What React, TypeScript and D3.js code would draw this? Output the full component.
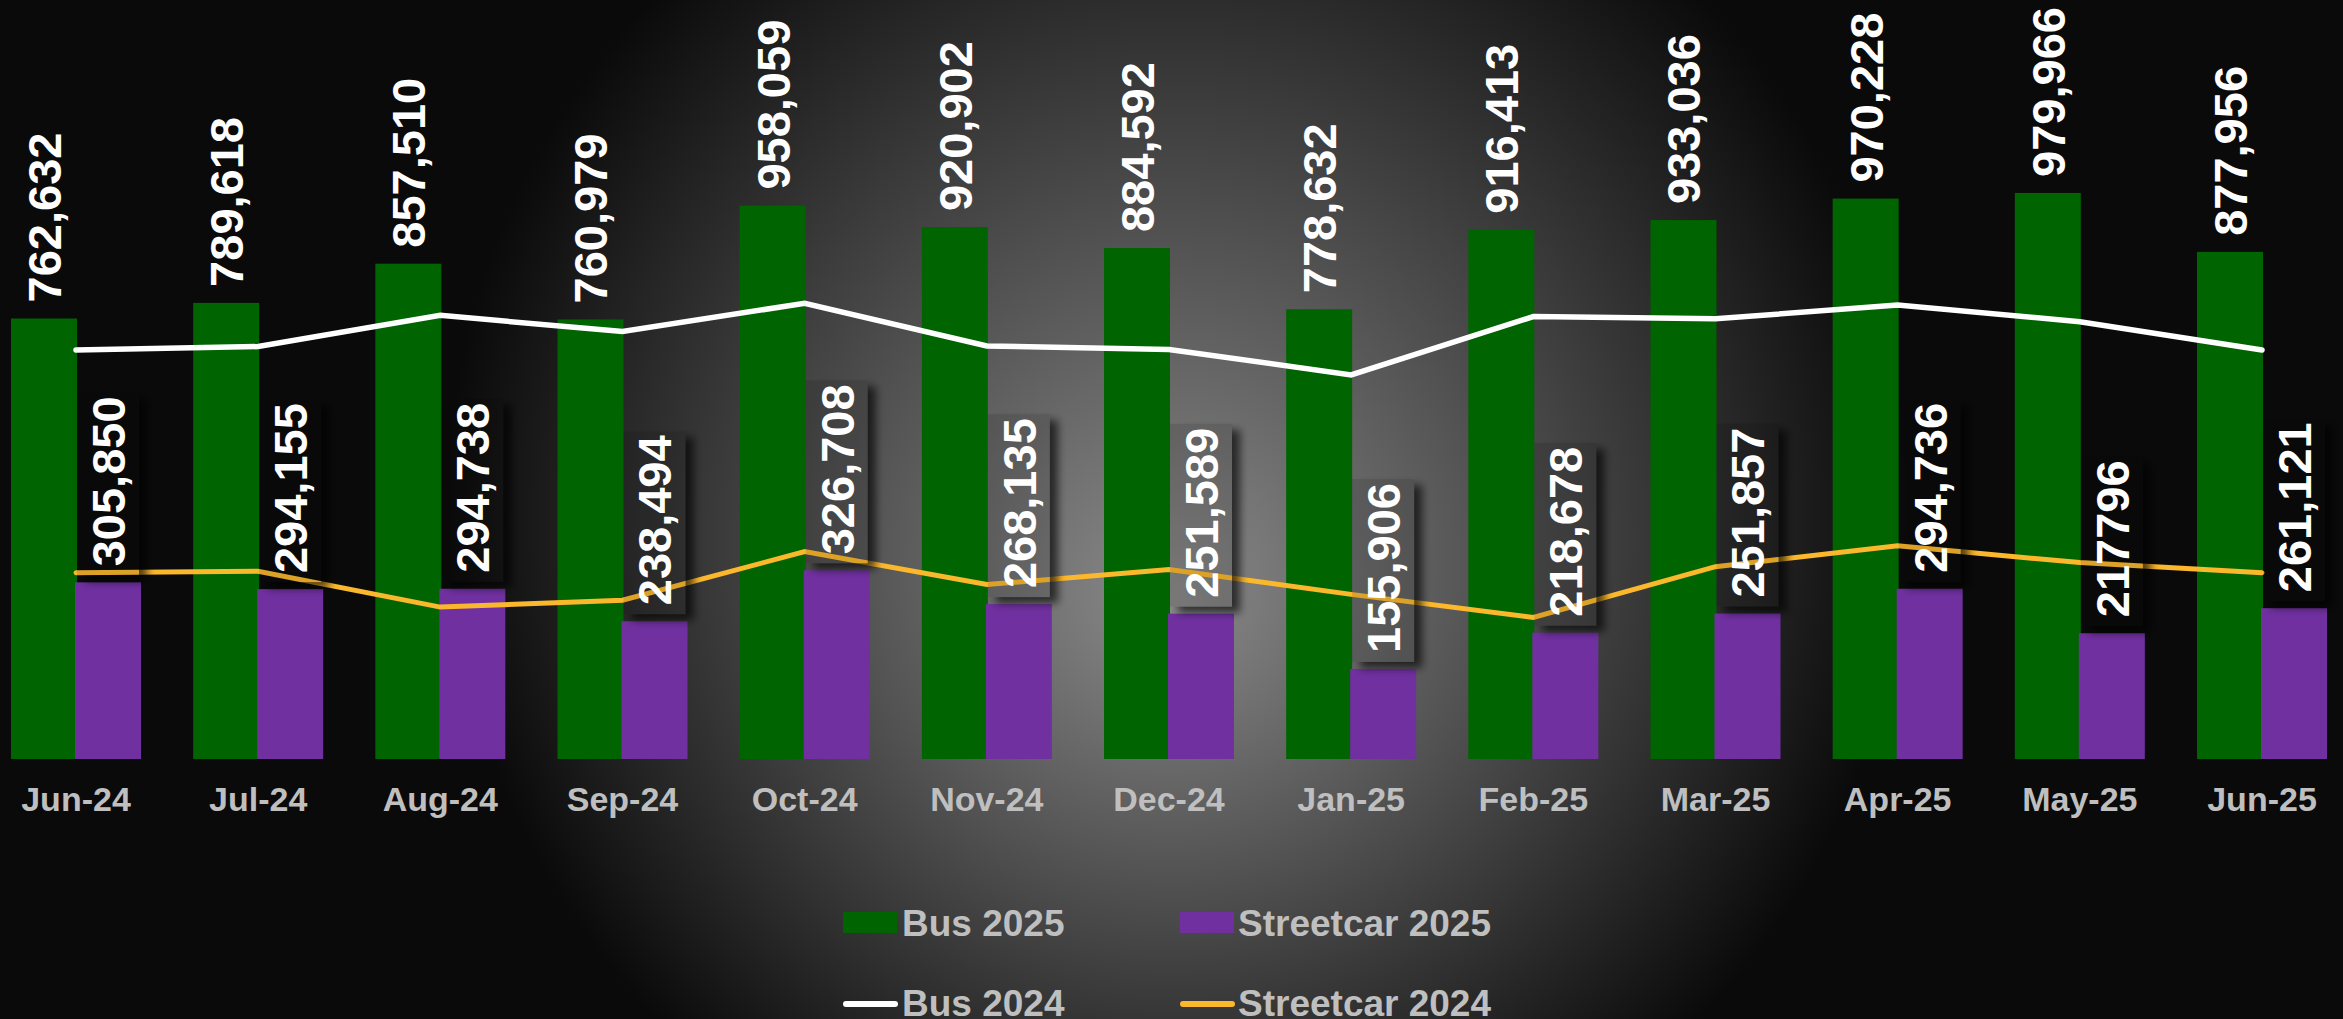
import React, { useEffect, useRef } from "react";
import * as d3 from "d3";

const months = ["Jun-24", "Jul-24", "Aug-24", "Sep-24", "Oct-24", "Nov-24", "Dec-24", "Jan-25", "Feb-25", "Mar-25", "Apr-25", "May-25", "Jun-25"];
const bus2025 = [762632, 789618, 857510, 760979, 958059, 920902, 884592, 778632, 916413, 933036, 970228, 979966, 877956];
const streetcar2025 = [305850, 294155, 294738, 238494, 326708, 268135, 251589, 155906, 218678, 251857, 294736, 217796, 261121];
// the chart shows May-25 without a thousands separator
const streetcarLabels = ["305,850", "294,155", "294,738", "238,494", "326,708", "268,135", "251,589", "155,906", "218,678", "251,857", "294,736", "217796", "261,121"];
const bus2024 = [708000, 714000, 768000, 740000, 789000, 715000, 709000, 665000, 766000, 762000, 786000, 757000, 708000];
const streetcar2024 = [322500, 325000, 263000, 275000, 359000, 302000, 328000, 285000, 245000, 333000, 369000, 340000, 322500];

const W = 2343, H = 1019;
const FONT = "'Liberation Sans', Arial, sans-serif";

const App = () => {
  const svgRef = useRef<SVGSVGElement>(null);

  useEffect(() => {
    const svg = d3.select(svgRef.current);
    svg.selectAll("*").remove();

    const defs = svg.append("defs");
    const grad = defs
      .append("radialGradient")
      .attr("id", "bg")
      .attr("gradientUnits", "userSpaceOnUse")
      .attr("cx", 1178)
      .attr("cy", 506)
      .attr("r", 732)
      .attr("fx", 1165)
      .attr("fy", 600);
    grad.append("stop").attr("offset", 0).attr("stop-color", "#8a8a8a");
    grad.append("stop").attr("offset", 1).attr("stop-color", "#0a0a0a");

    // shadow around label boxes, box itself only lightly tinted
    const f = defs
      .append("filter")
      .attr("id", "boxShadow")
      .attr("x", "-50%")
      .attr("y", "-20%")
      .attr("width", "200%")
      .attr("height", "140%");
    f.append("feGaussianBlur").attr("in", "SourceAlpha").attr("stdDeviation", 4).attr("result", "blur");
    f.append("feOffset").attr("in", "blur").attr("dx", 8).attr("dy", 6).attr("result", "off");
    f.append("feComposite").attr("in", "off").attr("in2", "SourceAlpha").attr("operator", "out").attr("result", "sOut");
    f.append("feComponentTransfer")
      .attr("in", "sOut")
      .attr("result", "shadow")
      .append("feFuncA")
      .attr("type", "linear")
      .attr("slope", 0.65);
    f.append("feFlood").attr("flood-color", "#000").attr("flood-opacity", 0.12).attr("result", "tint");
    f.append("feComposite").attr("in", "tint").attr("in2", "SourceAlpha").attr("operator", "in").attr("result", "boxTint");
    const merge = f.append("feMerge");
    merge.append("feMergeNode").attr("in", "shadow");
    merge.append("feMergeNode").attr("in", "boxTint");

    svg.append("rect").attr("width", W).attr("height", H).attr("fill", "#0d0d0d");
    svg.append("rect").attr("width", W).attr("height", H).attr("fill", "url(#bg)");

    const x = d3.scalePoint().domain(months).range([76, 2262]);
    const y = d3.scaleLinear().domain([0, 1314000]).range([759, 0]);
    const barW = 66;

    // bars
    svg
      .append("g")
      .selectAll("rect")
      .data(bus2025)
      .join("rect")
      .attr("x", (d, i) => x(months[i])! - 65)
      .attr("y", (d) => y(d))
      .attr("width", barW)
      .attr("height", (d) => y(0) - y(d))
      .attr("fill", "#006400");

    svg
      .append("g")
      .selectAll("rect")
      .data(streetcar2025)
      .join("rect")
      .attr("x", (d, i) => x(months[i])! - 1)
      .attr("y", (d) => y(d))
      .attr("width", barW)
      .attr("height", (d) => y(0) - y(d))
      .attr("fill", "#7030a0");

    // 2024 lines
    const line = d3
      .line<number>()
      .x((d, i) => x(months[i])!)
      .y((d) => y(d));

    svg
      .append("path")
      .datum(bus2024)
      .attr("fill", "none")
      .attr("stroke", "#ffffff")
      .attr("stroke-width", 5.5)
      .attr("stroke-linecap", "round")
      .attr("d", line);

    svg
      .append("path")
      .datum(streetcar2024)
      .attr("fill", "none")
      .attr("stroke", "#fbb82c")
      .attr("stroke-width", 5)
      .attr("stroke-linecap", "round")
      .attr("d", line);

    // streetcar label boxes
    const labelSize = 47;
    const textLen = (s: string) =>
      labelSize * s.split("").reduce((a, c) => a + (c === "," ? 0.278 : 0.556), 0);

    svg
      .append("g")
      .selectAll("rect")
      .data(streetcar2025)
      .join("rect")
      .attr("x", (d, i) => x(months[i])! + 32 - 31)
      .attr("y", (d, i) => y(d) - 16 - textLen(streetcarLabels[i]) - 4)
      .attr("width", 62)
      .attr("height", (d, i) => textLen(streetcarLabels[i]) + 13)
      .attr("fill", "#000")
      .attr("filter", "url(#boxShadow)");

    // value labels
    svg
      .append("g")
      .selectAll("text")
      .data(bus2025)
      .join("text")
      .attr("transform", (d, i) => `translate(${x(months[i])! - 32},${y(d) - 16}) rotate(-90)`)
      .attr("dy", "0.36em")
      .attr("fill", "#ffffff")
      .attr("font-family", FONT)
      .attr("font-weight", "bold")
      .attr("font-size", labelSize)
      .text((d) => d3.format(",")(d));

    svg
      .append("g")
      .selectAll("text")
      .data(streetcar2025)
      .join("text")
      .attr("transform", (d, i) => `translate(${x(months[i])! + 32},${y(d) - 16}) rotate(-90)`)
      .attr("dy", "0.36em")
      .attr("fill", "#ffffff")
      .attr("font-family", FONT)
      .attr("font-weight", "bold")
      .attr("font-size", labelSize)
      .text((d, i) => streetcarLabels[i]);

    // category labels
    svg
      .append("g")
      .selectAll("text")
      .data(months)
      .join("text")
      .attr("x", (d) => x(d)!)
      .attr("y", 811)
      .attr("text-anchor", "middle")
      .attr("fill", "#bfbfbf")
      .attr("font-family", FONT)
      .attr("font-weight", "bold")
      .attr("font-size", 34)
      .text((d) => d);

    // legend
    const legend = svg
      .append("g")
      .attr("font-family", FONT)
      .attr("font-weight", "bold")
      .attr("font-size", 37)
      .attr("fill", "#bfbfbf");

    legend.append("rect").attr("x", 843).attr("y", 912).attr("width", 54).attr("height", 21).attr("fill", "#006400");
    legend.append("text").attr("x", 902).attr("y", 936).text("Bus 2025");
    legend.append("rect").attr("x", 1180).attr("y", 912).attr("width", 54).attr("height", 21).attr("fill", "#7030a0");
    legend.append("text").attr("x", 1238).attr("y", 936).text("Streetcar 2025");

    legend.append("line").attr("x1", 846).attr("x2", 895).attr("y1", 1004).attr("y2", 1004)
      .attr("stroke", "#ffffff").attr("stroke-width", 6).attr("stroke-linecap", "round");
    legend.append("text").attr("x", 902).attr("y", 1016).text("Bus 2024");
    legend.append("line").attr("x1", 1183).attr("x2", 1232).attr("y1", 1004).attr("y2", 1004)
      .attr("stroke", "#fbb82c").attr("stroke-width", 6).attr("stroke-linecap", "round");
    legend.append("text").attr("x", 1238).attr("y", 1016).text("Streetcar 2024");
  }, []);

  return (
    <svg
      ref={svgRef}
      width={W}
      height={H}
      style={{ position: "absolute", left: 0, top: 0, display: "block" }}
    />
  );
};

export default App;
